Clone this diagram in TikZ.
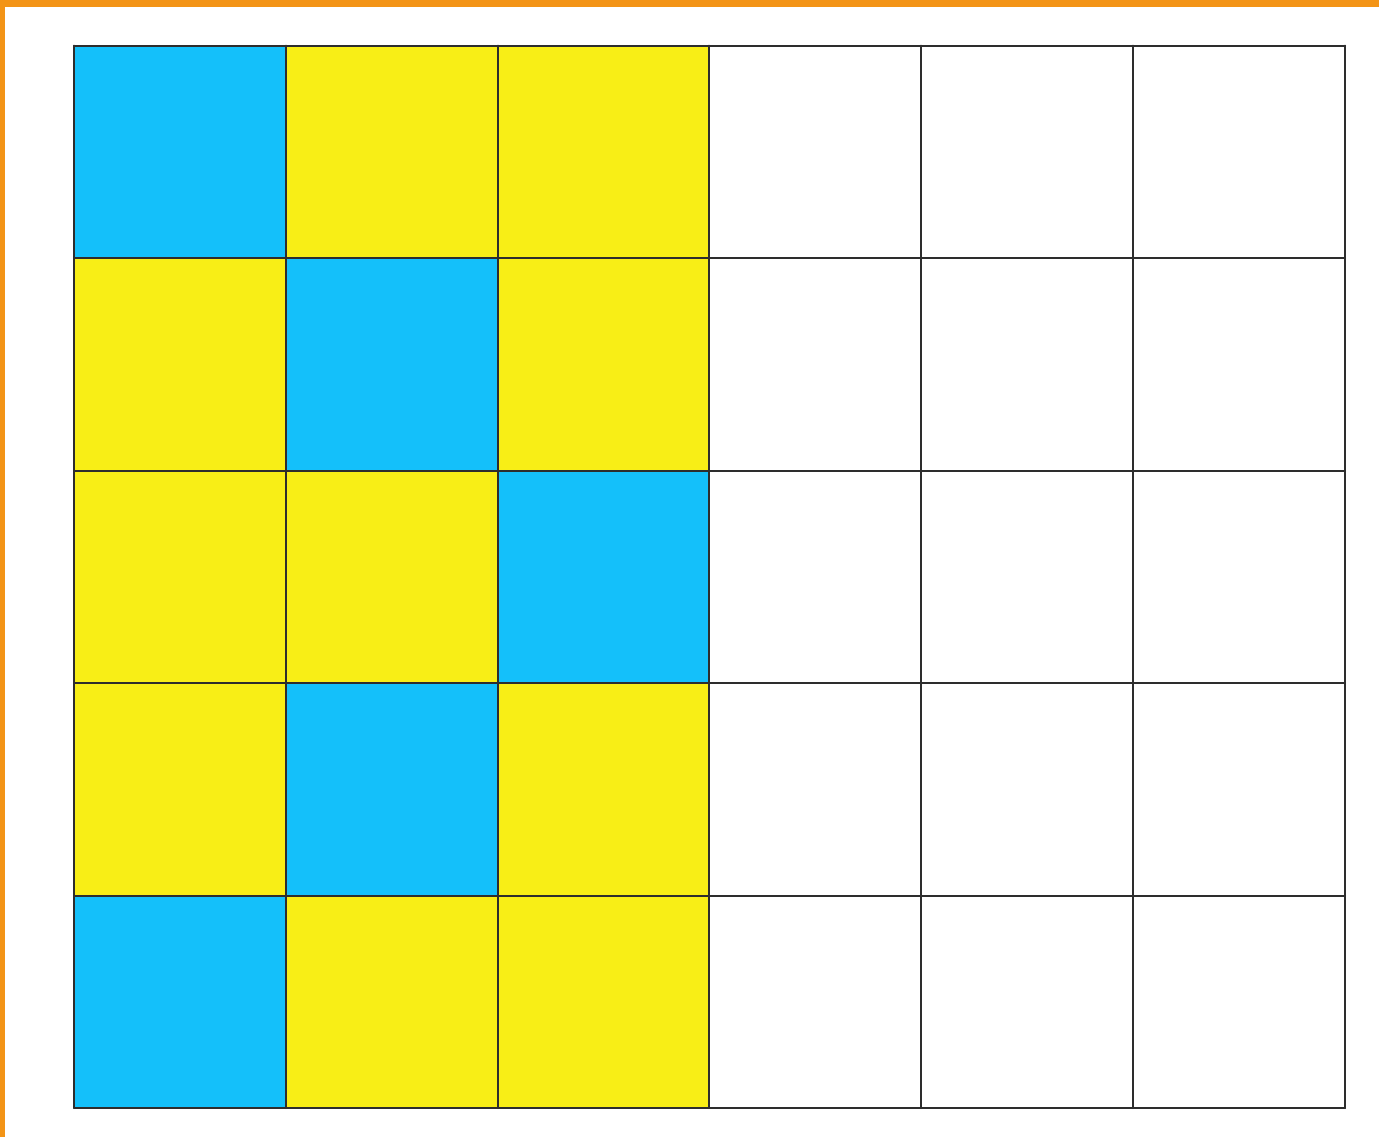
\documentclass[tikz,border=0pt]{standalone}
\usepackage{xcolor}
\definecolor{cellblue}{RGB}{20,192,250}
\definecolor{cellyellow}{RGB}{248,238,22}
\definecolor{frameorange}{RGB}{243,148,22}
\definecolor{gridgray}{RGB}{45,45,45}

\begin{document}
\begin{tikzpicture}[
    x=0.02cm, y=-0.02cm,
    frame/.style={fill=frameorange},
    gridlines/.style={draw=gridgray, line width=0.04cm, line cap=round}
  ]
  \useasboundingbox (0,0) rectangle (1379,1137);
  % Orange frame (top and left)
  \fill[frame] (0,0) rectangle (1379,6.5);
  \fill[frame] (0,0) rectangle (4.5,1137);
  % Coloured cells: column/row/colour
  \foreach \col/\row/\kind in {1/1/blue, 2/1/yellow, 3/1/yellow,
                               1/2/yellow, 2/2/blue, 3/2/yellow,
                               1/3/yellow, 2/3/yellow, 3/3/blue,
                               1/4/yellow, 2/4/blue, 3/4/yellow,
                               1/5/blue, 2/5/yellow, 3/5/yellow}
    \fill[fill=cell\kind] (74+211.83*\col-211.83,45.5+212.5*\row-212.5)
      rectangle ++(211.83,212.5);
  % Grid lines
  \foreach \i in {0,...,6}
    \draw[gridlines] (74+211.83*\i,45.5) -- (74+211.83*\i,1108);
  \foreach \j in {0,...,5}
    \draw[gridlines] (74,45.5+212.5*\j) -- (1345,45.5+212.5*\j);
\end{tikzpicture}
\end{document}
